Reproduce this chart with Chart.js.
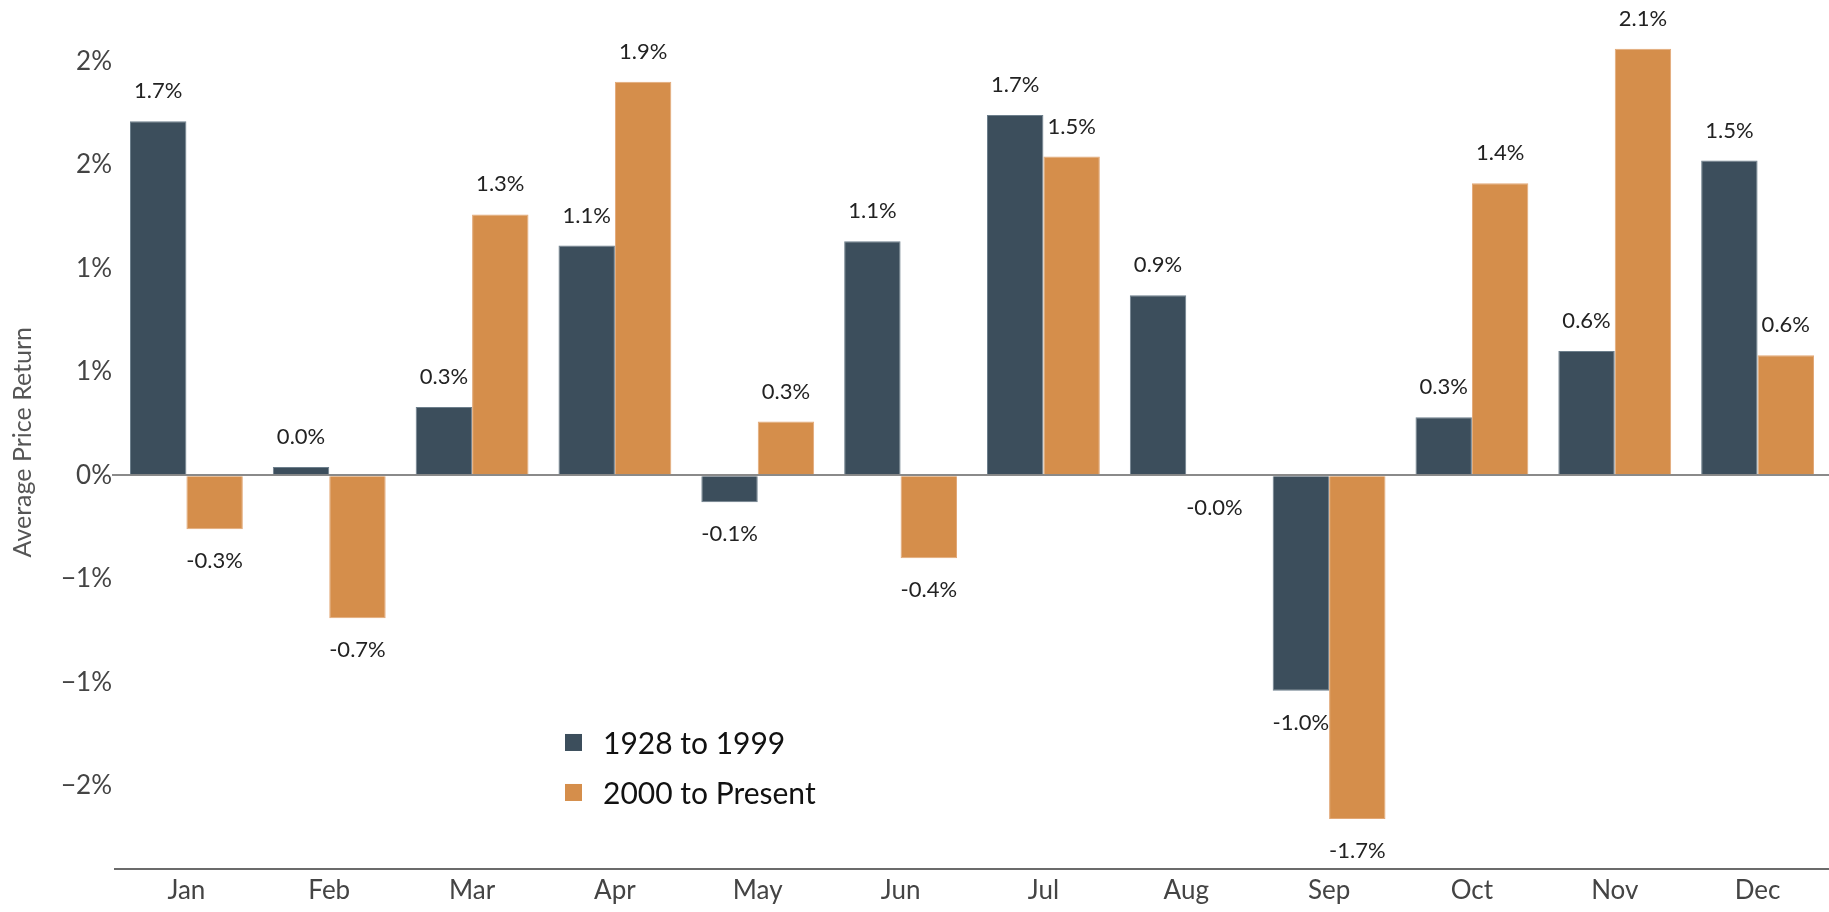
<!DOCTYPE html>
<html>
<head>
<meta charset="utf-8">
<script src="https://cdn.jsdelivr.net/npm/chart.js@4.4.1/dist/chart.umd.min.js"></script>
<style>
  html, body { margin: 0; padding: 0; background: #fff; }
  #wrap { width: 1829px; height: 912px; position: relative; }
</style>
</head>
<body>
<div id="wrap"><canvas id="monthChart"></canvas></div>
<script>
// months on the x axis
const months = ['Jan', 'Feb', 'Mar', 'Apr', 'May', 'Jun', 'Jul', 'Aug', 'Sep', 'Oct', 'Nov', 'Dec'];

// average price return, in percent
const early = [1.71, 0.04, 0.33, 1.11, -0.13, 1.13, 1.74, 0.87, -1.04, 0.28, 0.60, 1.52];
const recent = [-0.26, -0.69, 1.26, 1.90, 0.26, -0.40, 1.54, -0.004, -1.66, 1.41, 2.06, 0.58];

const seriesNames = ['1928 to 1999', '2000 to Present'];
const yTicks = [-1.5, -1, -0.5, 0, 0.5, 1, 1.5, 2];

const DARK = '#3c4e5c';
const ORANGE = '#d58e4b';
const FONT = 'Lato, "Source Sans Pro", sans-serif';

// value labels above / below each bar
const barLabels = {
    id: 'barLabels',
    afterDatasetsDraw(chart) {
        const ctx = chart.ctx;
        ctx.save();
        ctx.font = '22px ' + FONT;
        ctx.fillStyle = '#222';
        ctx.textAlign = 'center';
        ctx.textBaseline = 'middle';
        chart.data.datasets.forEach((ds, i) => {
            chart.getDatasetMeta(i).data.forEach((bar, j) => {
                const v = ds.data[j];
                const y = v >= 0 ? bar.y - 30 : bar.y + 32;
                ctx.fillText(v.toFixed(1) + '%', bar.x, y);
            });
        });
        ctx.restore();
    }
};

// legend sitting inside the plot, under Mar/Apr
const innerLegend = {
    id: 'innerLegend',
    afterDraw(chart) {
        const ctx = chart.ctx;
        const x = chart.chartArea.left + 450;
        const y0 = chart.scales.y.getPixelForValue(-1.29);
        ctx.save();
        ctx.font = '30px ' + FONT;
        ctx.textBaseline = 'middle';
        [DARK, ORANGE].forEach((c, i) => {
            const y = y0 + i * 50;
            ctx.fillStyle = c;
            ctx.fillRect(x, y - 8.5, 17, 17);
            ctx.fillStyle = '#111';
            ctx.fillText(seriesNames[i], x + 38, y + 2);
        });
        ctx.restore();
    }
};

function pctTick(v) {
    if (v === 0) return '0%';
    const r = Math.round(Math.abs(v));
    return (v < 0 ? '\u2212' : '') + r + '%';
}

new Chart(document.getElementById('monthChart'), {
    type: 'bar',
    data: {
        labels: months,
        datasets: [
            { label: seriesNames[0], data: early, backgroundColor: DARK, borderColor: '#6d7f8c', borderWidth: 1 },
            { label: seriesNames[1], data: recent, backgroundColor: ORANGE, borderColor: '#e2a877', borderWidth: 1 }
        ]
    },
    options: {
        responsive: true,
        maintainAspectRatio: false,
        animation: false,
        layout: { padding: { left: 0, right: 0, top: 0, bottom: 0 } },
        datasets: { bar: { categoryPercentage: 0.79, barPercentage: 1.0 } },
        plugins: {
            legend: { display: false },
            tooltip: { enabled: false }
        },
        scales: {
            x: {
                grid: { display: false, drawTicks: false },
                border: { display: true, color: '#6b6b6b', width: 2 },
                ticks: { color: '#444', font: { family: FONT, size: 26 }, padding: 6 }
            },
            y: {
                min: -1.9,
                max: 2.22,
                afterBuildTicks: s => { s.ticks = yTicks.map(v => ({ value: v })); },
                afterFit: s => { s.width = 115; },
                border: { display: false },
                grid: {
                    color: c => (c.tick && c.tick.value === 0 ? '#8a8a8a' : 'rgba(0,0,0,0)'),
                    lineWidth: 2,
                    drawTicks: true,
                    tickLength: 3
                },
                ticks: {
                    color: '#444',
                    font: { family: FONT, size: 26 },
                    padding: 0,
                    callback: v => pctTick(v)
                },
                title: {
                    display: true,
                    text: 'Average Price Return',
                    color: '#555',
                    font: { family: FONT, size: 25 },
                    padding: { top: 8, bottom: 0 }
                }
            }
        }
    },
    plugins: [barLabels, innerLegend]
});
</script>
</body>
</html>
